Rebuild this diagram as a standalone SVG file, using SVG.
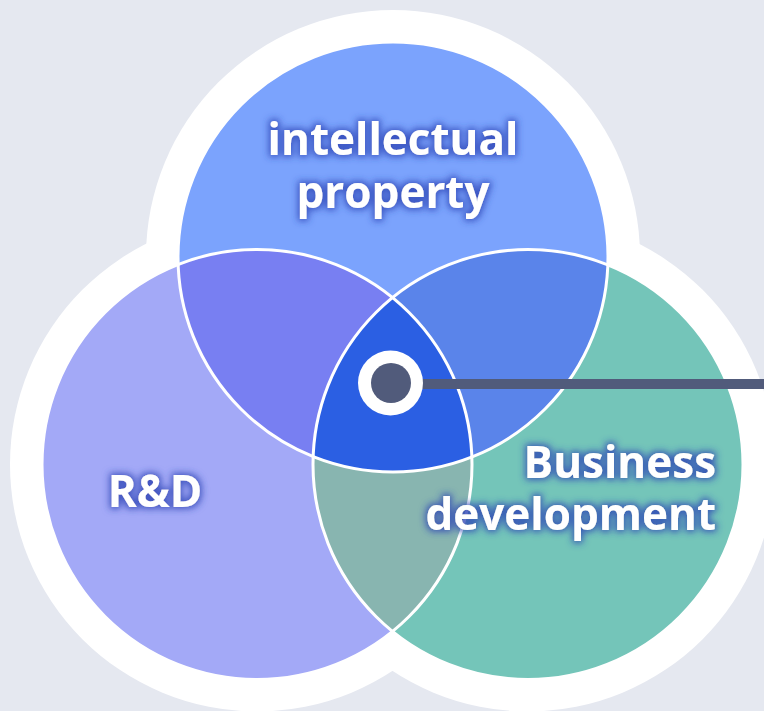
<svg xmlns="http://www.w3.org/2000/svg" width="764" height="711" viewBox="0 0 764 711">
<style>
.lbl{font-family:"Open Sans","Noto Sans","DejaVu Sans",sans-serif;font-weight:700;font-size:44px;fill:#ffffff;}
.edge{fill:none;stroke:#ffffff;stroke-width:3;}
</style>
<defs>
<filter id="glow" x="-20%" y="-30%" width="140%" height="160%">
<feMorphology in="SourceAlpha" operator="dilate" radius="1.5" result="d"/>
<feGaussianBlur in="d" stdDeviation="3.5" result="b"/>
<feFlood flood-color="#2b43b5" flood-opacity="0.8"/>
<feComposite in2="b" operator="in" result="s"/>
<feMerge><feMergeNode in="s"/><feMergeNode in="SourceGraphic"/></feMerge>
</filter>
<clipPath id="cTop"><circle cx="393" cy="257" r="215"/></clipPath>
<clipPath id="cLeft"><circle cx="257" cy="464.5" r="215"/></clipPath>
<clipPath id="cRight"><circle cx="528" cy="464.5" r="215"/></clipPath>
</defs>
<rect width="764" height="711" fill="#e5e8f0"/>
<g id="halo" fill="#ffffff">
<circle cx="393" cy="257" r="247"/>
<circle cx="257" cy="464.5" r="247"/>
<circle cx="528" cy="464.5" r="247"/>
</g>
<g id="node-ip"><circle cx="393" cy="257" r="215" fill="#7ba3fd"/></g>
<g id="node-rd"><circle cx="257" cy="464.5" r="215" fill="#a3a9f7"/></g>
<g id="node-bd"><circle cx="528" cy="464.5" r="215" fill="#74c5b9"/></g>
<g id="overlaps">
<circle cx="257" cy="464.5" r="215" fill="#787ff2" clip-path="url(#cTop)"/>
<circle cx="528" cy="464.5" r="215" fill="#5a84ea" clip-path="url(#cTop)"/>
<circle cx="528" cy="464.5" r="215" fill="#88b5b0" clip-path="url(#cLeft)"/>
<g clip-path="url(#cTop)"><circle cx="528" cy="464.5" r="215" fill="#2b5fe3" clip-path="url(#cLeft)"/></g>
</g>
<g id="outlines">
<circle class="edge" cx="393" cy="257" r="215"/>
<circle class="edge" cx="257" cy="464.5" r="215"/>
<circle class="edge" cx="528" cy="464.5" r="215"/>
</g>
<g id="labels" filter="url(#glow)">
<text class="lbl" x="393" y="155" text-anchor="middle">intellectual</text>
<text class="lbl" x="393" y="208" text-anchor="middle">property</text>
<text class="lbl" x="155" y="507" text-anchor="middle">R&amp;D</text>
<text class="lbl" x="716" y="478" text-anchor="end">Business</text>
<text class="lbl" x="716" y="530" text-anchor="end">development</text>
</g>
<g id="connectors">
<line x1="392" y1="384" x2="764" y2="384" stroke="#515b7b" stroke-width="10"/>
</g>
<g id="marker">
<circle cx="390.5" cy="383" r="32.5" fill="#ffffff"/>
<circle cx="391" cy="383" r="20" fill="#515b7b"/>
</g>
</svg>
